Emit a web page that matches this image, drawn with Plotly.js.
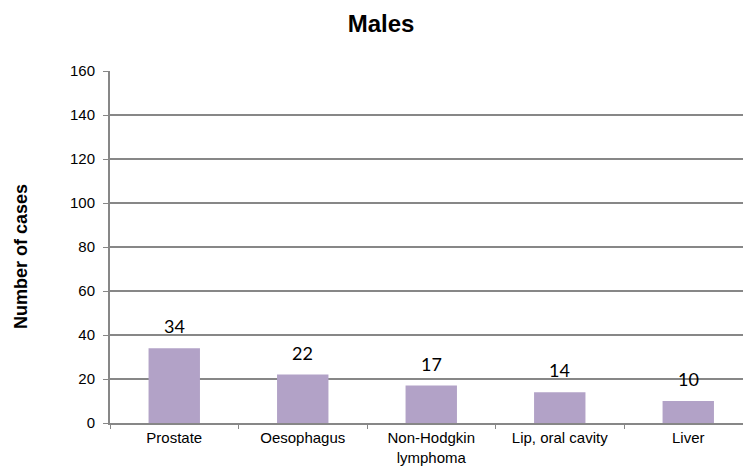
<!DOCTYPE html>
<html>
<head>
<meta charset="utf-8">
<script src="https://cdn.plot.ly/plotly-3.0.1.min.js"></script>
<style>html,body{margin:0;padding:0;background:#fff;}</style>
</head>
<body>
<div id="chart" style="width:743px;height:469px;"></div>
<script>
var categories = ["Prostate", "Oesophagus", "Non-Hodgkin<br>lymphoma", "Lip, oral cavity", "Liver"];
var cases = [34, 22, 17, 14, 10];
var yTicks = [0, 20, 40, 60, 80, 100, 120, 140, 160];

var trace = {
  type: "bar",
  x: categories,
  y: cases,
  width: 0.4,
  marker: {color: "#b2a2c7", line: {width: 0}},
  hoverinfo: "none"
};

var annotations = categories.map(function (c, i) {
  return {
    x: c, y: cases[i], xref: "x", yref: "y",
    text: String(cases[i]), showarrow: false,
    yanchor: "middle", yshift: 22,
    font: {family: "Lato, Open Sans, sans-serif", size: 18, color: "#000"}
  };
});

annotations.push({
  xref: "paper", yref: "paper",
  x: 0, y: (423 - 256.5) / 352,
  xanchor: "center", yanchor: "middle",
  xshift: -89.5,
  textangle: -90,
  showarrow: false,
  text: "<b>Number of cases</b>",
  font: {family: "Liberation Sans, Arial, sans-serif", size: 18, color: "#000"}
});

var layout = {
  width: 743, height: 469,
  margin: {l: 110, r: 0, t: 71, b: 46},
  paper_bgcolor: "#fff", plot_bgcolor: "#fff",
  showlegend: false,
  title: {
    text: "<b>Males</b>",
    xref: "container", yref: "container",
    x: 381 / 743, xanchor: "center",
    y: 1 - 24 / 469, yanchor: "middle",
    font: {family: "Liberation Sans, Arial, sans-serif", size: 24, color: "#000"}
  },
  xaxis: {
    type: "category",
    range: [-0.5, 4.426],
    showline: true, linecolor: "#878787", linewidth: 2,
    ticks: "outside", tickson: "boundaries", ticklen: 4, tickcolor: "#878787", tickwidth: 1,
    showgrid: false,
    tickfont: {family: "Liberation Sans, Arial, sans-serif", size: 15, color: "#000"},
    fixedrange: true
  },
  yaxis: {
    range: [0, 160],
    tickvals: yTicks,
    ticktext: yTicks.map(String),
    showline: true, linecolor: "#878787", linewidth: 2,
    ticks: "outside", ticklen: 5, tickcolor: "#878787", tickwidth: 1,
    ticklabelstandoff: 5,
    showgrid: true, gridcolor: "#878787", gridwidth: 1.5,
    zeroline: false,
    tickfont: {family: "Liberation Sans, Arial, sans-serif", size: 15, color: "#000"},
    fixedrange: true
  },
  annotations: annotations
};

Plotly.newPlot("chart", [trace], layout, {displayModeBar: false, staticPlot: true});
</script>
</body>
</html>
